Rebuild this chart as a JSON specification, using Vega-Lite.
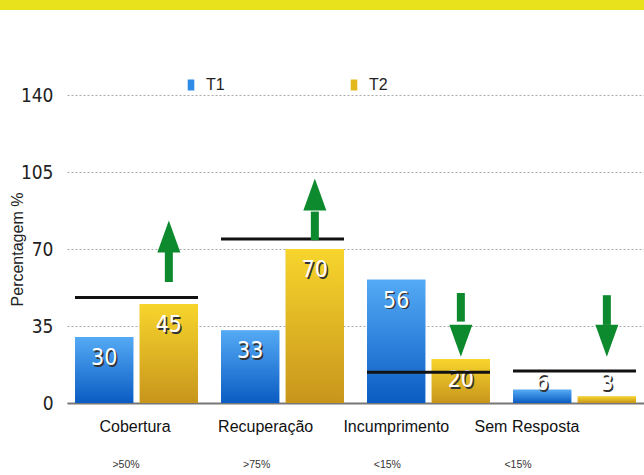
{
  "$schema": "https://vega.github.io/schema/vega-lite/v6.json",
  "width": 577,
  "height": 308,
  "autosize": "none",
  "padding": {"left": 67, "top": 95, "right": 0, "bottom": 72},
  "background": "white",
  "config": {"view": {"stroke": null}, "font": "Liberation Sans"},
  "datasets": {
    "bars": [
      {"category": "Cobertura", "series": "T1", "value": 30},
      {"category": "Cobertura", "series": "T2", "value": 45},
      {"category": "Recuperação", "series": "T1", "value": 33},
      {"category": "Recuperação", "series": "T2", "value": 70},
      {"category": "Incumprimento", "series": "T1", "value": 56},
      {"category": "Incumprimento", "series": "T2", "value": 20},
      {"category": "Sem Resposta", "series": "T1", "value": 6},
      {"category": "Sem Resposta", "series": "T2", "value": 3}
    ],
    "targets": [
      {"category": "Cobertura", "target": 48},
      {"category": "Recuperação", "target": 74.5},
      {"category": "Incumprimento", "target": 14},
      {"category": "Sem Resposta", "target": 14.5}
    ],
    "arrows": [
      {"category": "Cobertura", "series": "T2", "dir": "up", "from": 55, "base": 69, "tip": 83},
      {"category": "Recuperação", "series": "T2", "dir": "up", "from": 74, "base": 87, "tip": 102},
      {"category": "Incumprimento", "series": "T2", "dir": "down", "from": 50, "base": 37, "tip": 21},
      {"category": "Sem Resposta", "series": "T2", "dir": "down", "from": 49, "base": 35.5, "tip": 21}
    ],
    "cats": [
      {"category": "Cobertura", "sub": ">50%"},
      {"category": "Recuperação", "sub": ">75%"},
      {"category": "Incumprimento", "sub": "<15%"},
      {"category": "Sem Resposta", "sub": "<15%"}
    ]
  },
  "layer": [
    {
      "data": {"values": [{"band": "top"}]},
      "mark": {"type": "rect", "color": "#e8e21c"},
      "encoding": {
        "x": {"datum": -0.117, "type": "quantitative", "scale": {"domain": [0, 1]}, "axis": null},
        "x2": {"datum": 1},
        "y": {"datum": 184, "type": "quantitative", "scale": {"domain": [0, 140]}, "axis": null},
        "y2": {"datum": 178.6}
      }
    },
    {
      "data": {"name": "cats"},
      "layer": [
        {
          "mark": {"type": "text", "fontSize": 16, "color": "#111", "baseline": "middle"},
          "encoding": {
            "x": {"field": "category", "type": "nominal", "scale": {"type": "point", "domain": ["Cobertura", "Recuperação", "Incumprimento", "Sem Resposta"], "range": [68, 460], "padding": 0}, "axis": null},
            "y": {"datum": -10.9, "type": "quantitative", "scale": {"domain": [0, 140]}, "axis": null},
            "text": {"field": "category"}
          }
        },
        {
          "mark": {"type": "text", "fontSize": 10.5, "color": "#333", "baseline": "middle", "dx": -9},
          "encoding": {
            "x": {"field": "category", "type": "nominal"},
            "y": {"datum": -28.2, "type": "quantitative"},
            "text": {"field": "sub"}
          }
        }
      ]
    },
    {
      "layer": [
        {
          "data": {"name": "bars"},
          "mark": {"type": "bar"},
          "encoding": {
            "x": {"field": "category", "type": "nominal", "scale": {"domain": ["Cobertura", "Recuperação", "Incumprimento", "Sem Resposta"], "paddingInner": 0.158, "paddingOuter": 0.055}, "axis": {"orient": "bottom", "labels": false, "ticks": false, "title": null, "domainColor": "#777", "domainWidth": 2}},
            "xOffset": {"field": "series", "type": "nominal", "scale": {"domain": ["T1", "T2"], "paddingInner": 0.1}},
            "y": {"field": "value", "type": "quantitative", "scale": {"domain": [0, 140]}, "axis": {"orient": "left", "values": [0, 35, 70, 105, 140], "grid": true, "gridDash": [2, 2], "gridColor": "#aaa", "domain": false, "ticks": false, "labelFontSize": 19, "labelFont": "DejaVu Sans Condensed, Liberation Sans Narrow, Liberation Sans", "labelPadding": 14, "labelColor": "#222", "title": "Percentagem %", "titleFontSize": 16, "titleFontWeight": "normal", "titleColor": "#222", "titlePadding": -5}},
            "color": {"field": "series", "type": "nominal", "scale": {"domain": ["T1", "T2"], "range": ["#2f8be8", "#e2b81e"]}, "legend": {"orient": "none", "legendX": 116, "legendY": -18, "direction": "horizontal", "title": null, "symbolType": "M-0.6,-1H0.6V1H-0.6Z", "symbolSize": 121, "labelFontSize": 16, "labelColor": "#222", "columnPadding": 121, "labelOffset": 7, "symbolStrokeWidth": 0}}
          }
        },
        {
          "data": {"name": "bars"},
          "transform": [{"filter": "datum.series === 'T1'"}],
          "mark": {"type": "bar", "color": {"gradient": "linear", "x1": 0, "y1": 0, "x2": 0, "y2": 1, "stops": [{"offset": 0, "color": "#55aaf5"}, {"offset": 1, "color": "#0a5cc2"}]}},
          "encoding": {
            "x": {"field": "category", "type": "nominal", "title": null},
            "xOffset": {"field": "series", "type": "nominal"},
            "y": {"field": "value", "type": "quantitative"}
          }
        },
        {
          "data": {"name": "bars"},
          "transform": [{"filter": "datum.series === 'T2'"}],
          "mark": {"type": "bar", "color": {"gradient": "linear", "x1": 0, "y1": 0, "x2": 0, "y2": 1, "stops": [{"offset": 0, "color": "#f7d52c"}, {"offset": 1, "color": "#c8951c"}]}},
          "encoding": {
            "x": {"field": "category", "type": "nominal", "title": null},
            "xOffset": {"field": "series", "type": "nominal"},
            "y": {"field": "value", "type": "quantitative"}
          }
        },
        {
          "data": {"name": "bars"},
          "transform": [{"filter": "datum.value >= 15"}],
          "mark": {"type": "text", "fontSize": 23, "font": "DejaVu Sans Condensed, Liberation Sans Narrow, Liberation Sans", "color": "#333", "baseline": "middle", "dx": 1.5, "dy": 22.5},
          "encoding": {
            "x": {"field": "category", "type": "nominal", "title": null},
            "xOffset": {"field": "series", "type": "nominal"},
            "y": {"field": "value", "type": "quantitative"},
            "text": {"field": "value"}
          }
        },
        {
          "data": {"name": "bars"},
          "transform": [{"filter": "datum.value >= 15"}],
          "mark": {"type": "text", "fontSize": 23, "font": "DejaVu Sans Condensed, Liberation Sans Narrow, Liberation Sans", "color": "white", "baseline": "middle", "dy": 21},
          "encoding": {
            "x": {"field": "category", "type": "nominal", "title": null},
            "xOffset": {"field": "series", "type": "nominal"},
            "y": {"field": "value", "type": "quantitative"},
            "text": {"field": "value"}
          }
        },
        {
          "data": {"name": "bars"},
          "transform": [{"filter": "datum.value < 15"}],
          "mark": {"type": "text", "fontSize": 23, "font": "DejaVu Sans Condensed, Liberation Sans Narrow, Liberation Sans", "color": "#333", "baseline": "middle", "dx": 1.5, "dy": 1.5},
          "encoding": {
            "x": {"field": "category", "type": "nominal", "title": null},
            "xOffset": {"field": "series", "type": "nominal"},
            "y": {"datum": 9, "type": "quantitative"},
            "text": {"field": "value"}
          }
        },
        {
          "data": {"name": "bars"},
          "transform": [{"filter": "datum.value < 15"}],
          "mark": {"type": "text", "fontSize": 23, "font": "DejaVu Sans Condensed, Liberation Sans Narrow, Liberation Sans", "color": "white", "baseline": "middle"},
          "encoding": {
            "x": {"field": "category", "type": "nominal", "title": null},
            "xOffset": {"field": "series", "type": "nominal"},
            "y": {"datum": 9, "type": "quantitative"},
            "text": {"field": "value"}
          }
        },
        {
          "data": {"name": "targets"},
          "mark": {"type": "tick", "orient": "horizontal", "size": 123, "thickness": 3, "color": "#111", "opacity": 1},
          "encoding": {
            "x": {"field": "category", "type": "nominal", "title": null},
            "y": {"field": "target", "type": "quantitative"}
          }
        },
        {
          "data": {"name": "arrows"},
          "mark": {"type": "rule", "strokeWidth": 8, "color": "#0d8a2e", "strokeCap": "butt"},
          "encoding": {
            "x": {"field": "category", "type": "nominal", "title": null},
            "xOffset": {"field": "series", "type": "nominal"},
            "y": {"field": "from", "type": "quantitative"},
            "y2": {"field": "base"}
          }
        },
        {
          "data": {"name": "arrows"},
          "mark": {"type": "point", "filled": true, "size": 1024, "color": "#0d8a2e", "opacity": 1, "strokeWidth": 0},
          "encoding": {
            "x": {"field": "category", "type": "nominal", "title": null},
            "xOffset": {"field": "series", "type": "nominal"},
            "y": {"field": "tip", "type": "quantitative"},
            "shape": {"field": "dir", "type": "nominal", "scale": {"domain": ["up", "down"], "range": ["M0,0L0.72,2L-0.72,2Z", "M0,0L0.72,-2L-0.72,-2Z"]}, "legend": null}
          }
        }
      ]
    }
  ],
  "resolve": {"scale": {"x": "independent", "y": "independent"}}
}
